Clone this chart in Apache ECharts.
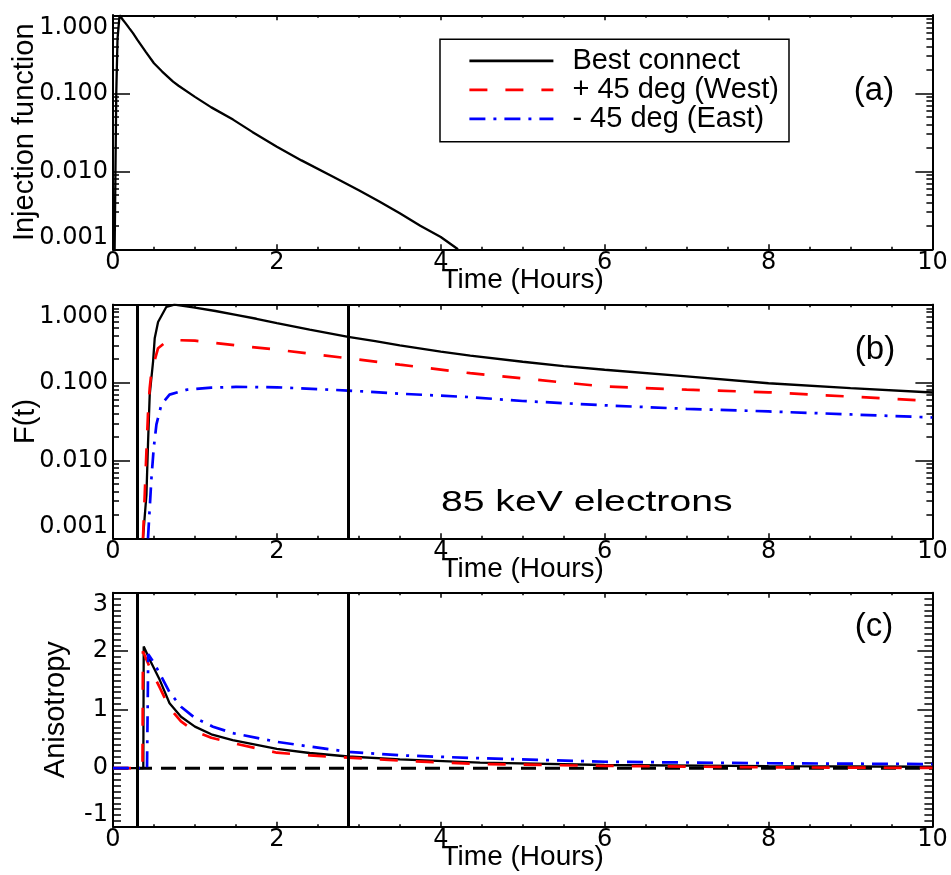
<!DOCTYPE html>
<html>
<head>
<meta charset="utf-8">
<script src="https://cdn.jsdelivr.net/npm/echarts@6/dist/echarts.min.js"></script>
<style>
  html, body { margin: 0; padding: 0; background: #fff; }
  #chart { width: 951px; height: 875px; }
</style>
</head>
<body>
<div id="chart"></div>
<script>
// ---- (a) injection function ----
const injT = [0.02, 0.03, 0.04, 0.055, 0.08, 0.122, 0.15, 0.2, 0.244, 0.3, 0.4, 0.5, 0.6, 0.733, 0.8, 1.0, 1.2, 1.465, 1.7, 2.0, 2.3, 2.686, 3.0, 3.25, 3.5, 3.75, 4.0, 4.21];
const injV = [0.001, 0.01, 0.1, 0.5, 1.0, 0.87, 0.8, 0.68, 0.59, 0.48, 0.34, 0.243, 0.19, 0.141, 0.125, 0.090, 0.066, 0.046, 0.032, 0.0207, 0.0138, 0.0085, 0.0057, 0.0041, 0.0029, 0.0020, 0.00144, 0.001];

// ---- (b) F(t) ----
const fluxBestT = [0.366, 0.408, 0.427, 0.448, 0.489, 0.509, 0.55, 0.652, 0.75, 1.0, 1.25, 1.5, 1.75, 2.0, 2.4, 2.87, 3.2, 3.5, 4.0, 4.36, 5, 5.5, 6, 7, 8, 9, 10];
const fluxBestV = [0.001, 0.0036, 0.016, 0.07, 0.186, 0.37, 0.6, 0.94, 1.0, 0.92, 0.83, 0.74, 0.66, 0.58, 0.48, 0.385, 0.34, 0.30, 0.25, 0.222, 0.185, 0.163, 0.146, 0.12, 0.098, 0.085, 0.0745];
const fluxWestT = [0.366, 0.387, 0.408, 0.427, 0.448, 0.469, 0.55, 0.65, 0.8, 1.0, 1.5, 2.0, 2.4, 2.87, 3.5, 4.36, 5, 6, 7, 8, 9, 10];
const fluxWestV = [0.001, 0.0036, 0.013, 0.039, 0.085, 0.138, 0.276, 0.335, 0.35, 0.345, 0.30, 0.265, 0.235, 0.205, 0.17, 0.132, 0.113, 0.089, 0.081, 0.075, 0.066, 0.058];
const fluxEastT = [0.427, 0.469, 0.497, 0.53, 0.59, 0.69, 0.9, 1.2, 1.5, 2.0, 2.87, 3.5, 4.36, 5, 6, 7, 8, 9, 10];
const fluxEastV = [0.001, 0.0059, 0.0144, 0.029, 0.052, 0.07, 0.081, 0.086, 0.088, 0.087, 0.079, 0.072, 0.065, 0.058, 0.051, 0.046, 0.0426, 0.039, 0.0356];

// ---- (c) anisotropy ----
const anisoBestT = [0, 0.37, 0.375, 0.45, 0.57, 0.69, 0.83, 1.0, 1.2, 1.46, 2.0, 2.4, 2.87, 3.5, 4.48, 6, 8, 10];
const anisoBestV = [0, 0, 2.08, 1.85, 1.51, 1.11, 0.88, 0.71, 0.58, 0.48, 0.33, 0.26, 0.2, 0.15, 0.095, 0.055, 0.035, 0.025];
const anisoWestT = [0, 0.36, 0.365, 0.45, 0.57, 0.69, 0.83, 1.0, 1.2, 1.46, 2.0, 2.4, 2.87, 3.5, 4.48, 6, 8, 10];
const anisoWestV = [0, 0, 2.0, 1.72, 1.38, 1.03, 0.8, 0.63, 0.52, 0.43, 0.265, 0.22, 0.18, 0.13, 0.07, 0.04, 0.015, 0.005];
const anisoEastT = [0, 0.415, 0.43, 0.5, 0.57, 0.69, 0.83, 1.0, 1.22, 1.46, 2.0, 2.4, 2.87, 3.5, 4.48, 6, 8, 10];
const anisoEastV = [0, 0, 1.95, 1.8, 1.62, 1.3, 1.05, 0.86, 0.71, 0.6, 0.45, 0.37, 0.28, 0.22, 0.17, 0.11, 0.085, 0.07];
const zeroT = [0, 10];
const zeroV = [0, 0];

// vertical marker times (hours)
const markerTimes = [0.29, 2.87];

// axis tick values
const logMajor = [0.001, 0.01, 0.1, 1];
const logMinor = [0.002, 0.003, 0.004, 0.005, 0.006, 0.007, 0.008, 0.009,
                  0.02, 0.03, 0.04, 0.05, 0.06, 0.07, 0.08, 0.09,
                  0.2, 0.3, 0.4, 0.5, 0.6, 0.7, 0.8, 0.9];

const names = ['Best connect', '+ 45 deg (West)', '- 45 deg (East)'];

const zip = (t, v) => t.map((x, i) => [x, v[i]]);

const TICK_FONT = 'DejaVu Sans';
const TITLE_FONT = 'Liberation Sans';
const black = '#000';

const grids = [
  { left: 113, top: 15.3, width: 819.4, height: 234, containLabel: false, outerBoundsMode: 'none' },
  { left: 113, top: 304.7, width: 819.4, height: 233.6, containLabel: false, outerBoundsMode: 'none' },
  { left: 113, top: 592.7, width: 819.4, height: 234, containLabel: false, outerBoundsMode: 'none' }
];

function xAxes(g) {
  const base = {
    type: 'value', gridIndex: g, min: 0, max: 10, interval: 2,
    axisLine: { show: true, onZero: false, lineStyle: { color: black, width: 2 } },
    axisTick: { show: true, inside: true, length: 5, lineStyle: { color: black, width: 1.5 } },
    minorTick: { show: true, splitNumber: 4, length: 2.5, lineStyle: { color: black, width: 1.5 } },
    splitLine: { show: false }, minorSplitLine: { show: false }
  };
  return [
    Object.assign({}, base, {
      position: 'bottom',
      axisLabel: { show: true, margin: 1, color: black, fontFamily: TICK_FONT, fontSize: 24 },
      name: 'Time (Hours)', nameLocation: 'middle', nameGap: 17, nameMoveOverlap: false,
      nameTextStyle: { color: black, fontFamily: TITLE_FONT, fontSize: 28, verticalAlign: 'top' }
    }),
    Object.assign({}, base, { position: 'top', axisLabel: { show: false } })
  ];
}

function logYAxes(g, title, gap) {
  const common = {
    type: 'log', logBase: 10, gridIndex: g, min: 0.001, max: 1,
    axisLine: { show: true, onZero: false, lineStyle: { color: black, width: 2 } },
    splitLine: { show: false }
  };
  const major = (pos, labels) => Object.assign({}, common, {
    position: pos,
    axisTick: { show: true, inside: true, length: 17, customValues: logMajor, lineStyle: { color: black, width: 1.5 } },
    axisLabel: labels ? {
      show: true, margin: 5, color: black, fontFamily: TICK_FONT, fontSize: 24,
      customValues: logMajor,
      formatter: v => Number(v).toFixed(3),
      verticalAlignMinLabel: 'bottom', verticalAlignMaxLabel: 'top'
    } : { show: false }
  });
  const minor = pos => Object.assign({}, common, {
    position: pos,
    axisTick: { show: true, inside: true, length: 6, customValues: logMinor, lineStyle: { color: black, width: 1.5 } },
    axisLabel: { show: false }
  });
  const left = major('left', true);
  left.name = title;
  left.nameLocation = 'middle';
  left.nameGap = gap;
  left.nameMoveOverlap = false;
  left.nameTextStyle = { color: black, fontFamily: TITLE_FONT, fontSize: 29 };
  return [left, minor('left'), major('right', false), minor('right')];
}

function linYAxes(g, title, gap) {
  const common = {
    type: 'value', gridIndex: g, min: -1, max: 3, interval: 1,
    axisLine: { show: true, onZero: false, lineStyle: { color: black, width: 2 } },
    axisTick: { show: true, inside: true, length: 15, lineStyle: { color: black, width: 1.5 } },
    minorTick: { show: true, splitNumber: 10, length: 8, lineStyle: { color: black, width: 1.5 } },
    splitLine: { show: false }, minorSplitLine: { show: false }
  };
  return [
    Object.assign({}, common, {
      position: 'left',
      axisLabel: {
        show: true, margin: 5, color: black, fontFamily: TICK_FONT, fontSize: 24,
        verticalAlignMinLabel: 'bottom', verticalAlignMaxLabel: 'top'
      },
      name: title, nameLocation: 'middle', nameGap: gap, nameMoveOverlap: false,
      nameTextStyle: { color: black, fontFamily: TITLE_FONT, fontSize: 29 }
    }),
    Object.assign({}, common, { position: 'right', axisLabel: { show: false } })
  ];
}

const styles = [
  { color: '#000000', width: 2.3, type: 'solid' },
  { color: '#ff0000', width: 2.7, type: [18, 18] },
  { color: '#0000ff', width: 2.7, type: [16, 8, 3, 8] }
];

function line(name, data, xi, yi, st, extra) {
  return Object.assign({
    name, type: 'line', xAxisIndex: xi, yAxisIndex: yi, data,
    showSymbol: false, symbol: 'none', smooth: false, clip: true,
    lineStyle: { color: st.color, width: st.width, type: st.type },
    itemStyle: { color: st.color },
    emphasis: { disabled: true }, silent: true
  }, extra || {});
}

const markers = {
  silent: true, symbol: ['none', 'none'], animation: false,
  label: { show: false },
  lineStyle: { color: black, width: 3, type: 'solid' },
  data: markerTimes.map(t => ({ xAxis: t }))
};

const option = {
  animation: false,
  backgroundColor: '#fff',
  grid: grids,
  xAxis: [...xAxes(0), ...xAxes(1), ...xAxes(2)],
  yAxis: [
    ...logYAxes(0, 'Injection function', 74),
    ...logYAxes(1, 'F(t)', 73),
    ...linYAxes(2, 'Anisotropy', 43)
  ],
  legend: {
    left: 440, top: 39.3, orient: 'vertical',
    data: names, selectedMode: false,
    itemWidth: 84, itemHeight: 22, itemGap: 0,
    padding: [7, 10, 8.4, 28],
    borderColor: black, borderWidth: 1.5, backgroundColor: '#fff',
    itemStyle: { color: 'rgba(0,0,0,0)', borderWidth: 0, opacity: 0 },
    lineStyle: { width: 2.8 },
    textStyle: { color: black, fontFamily: TITLE_FONT, fontSize: 29, lineHeight: 29, padding: [0, 0, 0, 14] }
  },
  graphic: [
    { type: 'text', x: 874, y: 91, silent: true,
      style: { text: '(a)', font: '33px "Liberation Sans"', fill: black, textAlign: 'center', textVerticalAlign: 'middle' } },
    { type: 'text', x: 875, y: 350, silent: true,
      style: { text: '(b)', font: '33px "Liberation Sans"', fill: black, textAlign: 'center', textVerticalAlign: 'middle' } },
    { type: 'text', x: 874, y: 627, silent: true,
      style: { text: '(c)', font: '33px "Liberation Sans"', fill: black, textAlign: 'center', textVerticalAlign: 'middle' } },
    { type: 'text', x: 586.7, y: 503, scaleX: 1.35, silent: true,
      style: { text: '85 keV electrons', font: '29px "Liberation Sans"', fill: black, textAlign: 'center', textVerticalAlign: 'middle' } }
  ],
  series: [
    // (b)
    line(names[0], zip(fluxBestT, fluxBestV), 2, 4, styles[0], { markLine: markers }),
    line(names[1], zip(fluxWestT, fluxWestV), 2, 4, styles[1]),
    line(names[2], zip(fluxEastT, fluxEastV), 2, 4, styles[2]),
    // (a)
    line('Injection function', zip(injT, injV), 0, 0, styles[0]),
    // (c)
    line('zero', zip(zeroT, zeroV), 4, 8, { color: black, width: 3, type: [15, 9] }, { markLine: markers }),
    line(names[0], zip(anisoBestT, anisoBestV), 4, 8, styles[0]),
    line(names[1], zip(anisoWestT, anisoWestV), 4, 8, styles[1]),
    line(names[2], zip(anisoEastT, anisoEastV), 4, 8, styles[2])
  ]
};

const chart = echarts.init(document.getElementById('chart'), null, { renderer: 'canvas' });
chart.setOption(option);
</script>
</body>
</html>
